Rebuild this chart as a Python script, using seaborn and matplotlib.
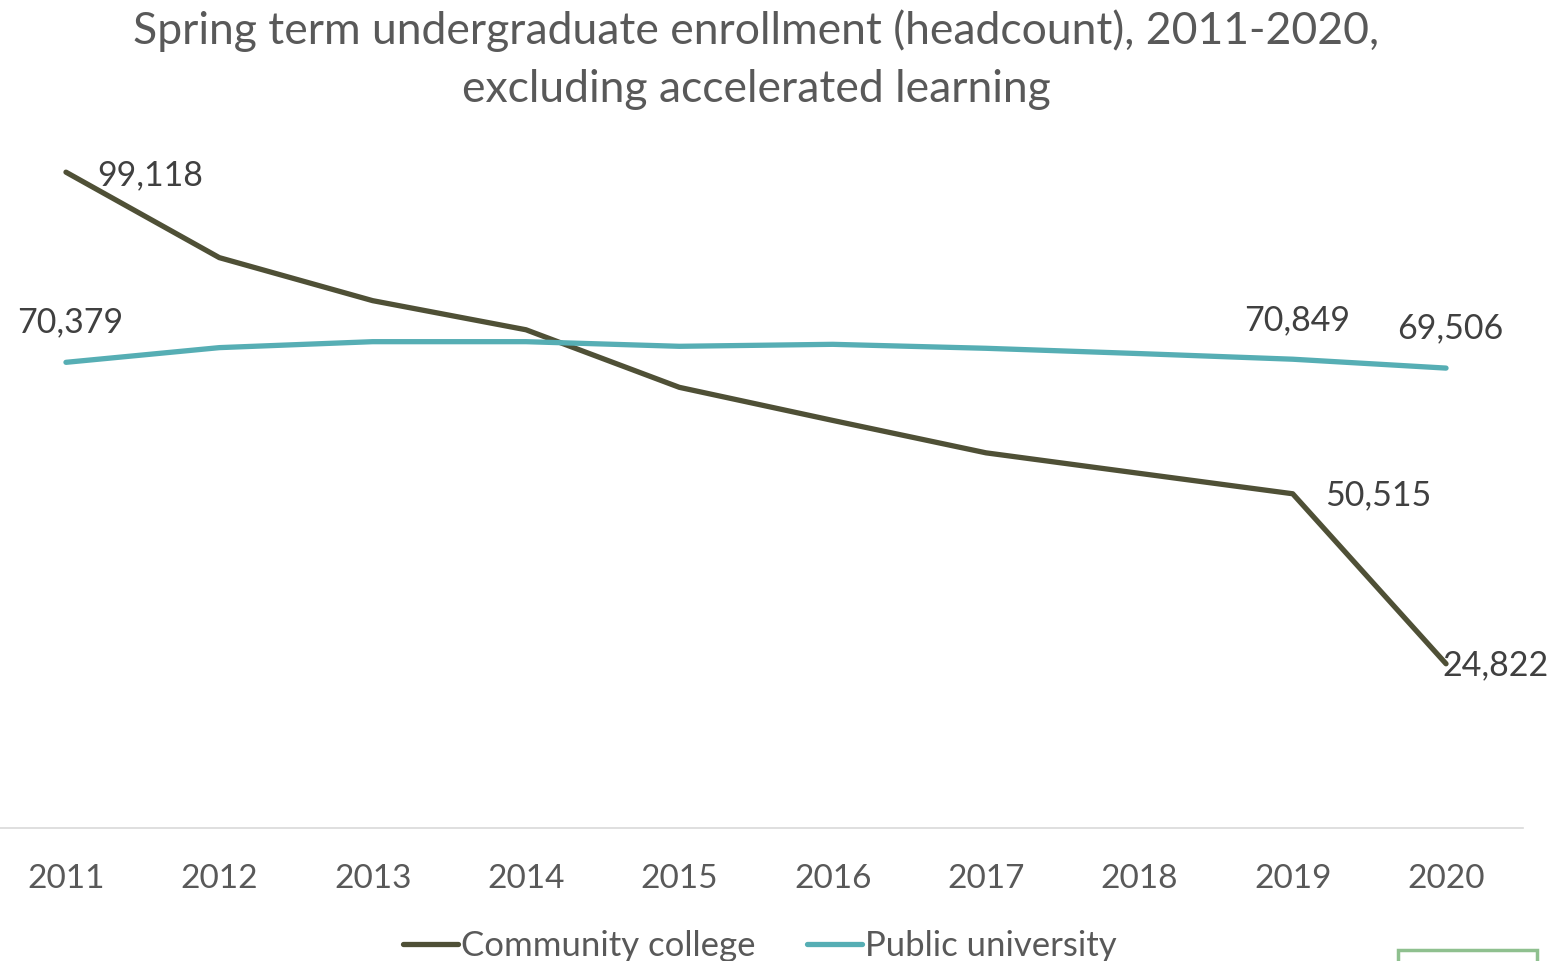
import matplotlib
matplotlib.use("Agg")
import matplotlib.pyplot as plt
import seaborn as sns
import pandas as pd
from matplotlib.patches import Rectangle
from matplotlib.lines import Line2D

years = [2011, 2012, 2013, 2014, 2015, 2016, 2017, 2018, 2019, 2020]
community_college = [99118, 86200, 79700, 75300, 66600, 61600, 56700, 53600, 50515, 24822]
public_university = [70379, 72600, 73500, 73500, 72800, 73100, 72500, 71700, 70849, 69506]
series_names = ["Community college", "Public university"]
colors = {"Community college": "#4f5036", "Public university": "#56aeb4"}

df = pd.concat([
    pd.DataFrame({"year": years, "value": community_college, "series": series_names[0]}),
    pd.DataFrame({"year": years, "value": public_university, "series": series_names[1]}),
])

sns.set_theme(style="white")
plt.rcParams["font.family"] = ["Lato", "DejaVu Sans"]

fig = plt.figure(figsize=(15.67, 9.61), dpi=100)
ax = fig.add_axes([-10.7 / 1567, 133 / 961, 1533.4 / 1567, (927 - 133) / 961])

sns.lineplot(data=df, x="year", y="value", hue="series", palette=colors,
             linewidth=3.8, ax=ax, legend=False, solid_capstyle="round")

ax.set_xlim(2010.5, 2020.5)
ax.set_ylim(0, 120000)
ax.set_xticks(years)
ax.set_xticklabels([str(y) for y in years], fontsize=24, color="#595959")
ax.set_yticks([])
ax.set_xlabel("")
ax.set_ylabel("")
for s in ["top", "left", "right"]:
    ax.spines[s].set_visible(False)
ax.spines["bottom"].set_color("#d9d9d9")
ax.spines["bottom"].set_linewidth(1.2)
ax.tick_params(axis="x", length=0, pad=26)

lab_kw = dict(textcoords="offset pixels", fontsize=24.5, color="#404040")
cc = dict(zip(years, community_college))
pu = dict(zip(years, public_university))
ax.annotate(f"{cc[2011]:,}", (2011, cc[2011]), xytext=(31, -3), ha="left", va="center", **lab_kw)
ax.annotate(f"{cc[2019]:,}", (2019, cc[2019]), xytext=(32, -2), ha="left", va="center", **lab_kw)
ax.annotate(f"{cc[2020]:,}", (2020, cc[2020]), xytext=(-4, -2), ha="left", va="center", **lab_kw)
ax.annotate(f"{pu[2011]:,}", (2011, pu[2011]), xytext=(4, 40), ha="center", va="center", **lab_kw)
ax.annotate(f"{pu[2019]:,}", (2019, pu[2019]), xytext=(4, 39), ha="center", va="center", **lab_kw)
ax.annotate(f"{pu[2020]:,}", (2020, pu[2020]), xytext=(4, 40), ha="center", va="center", **lab_kw)

fig.text(756 / 1567, 1 - 31 / 961, "Spring term undergraduate enrollment (headcount), 2011-2020,",
         ha="center", va="center", fontsize=32, color="#595959")
fig.text(756 / 1567, 1 - 89 / 961, "excluding accelerated learning",
         ha="center", va="center", fontsize=32, color="#595959")

handles = [Line2D([0], [0], color=colors[n], lw=3.8, solid_capstyle="round") for n in series_names]
fig.legend(handles, series_names, loc="center", bbox_to_anchor=(760 / 1567, 15 / 961),
           ncol=2, frameon=False, fontsize=25, labelcolor="#595959",
           handlelength=1.58, handletextpad=0.09, columnspacing=1.47)

fig.patches.append(Rectangle((1398 / 1567, -0.01), (1537 - 1398) / 1567, 0.0215,
                             transform=fig.transFigure, fill=False,
                             edgecolor="#8fc08f", linewidth=2.5))

fig.savefig("out.png", dpi=100)
